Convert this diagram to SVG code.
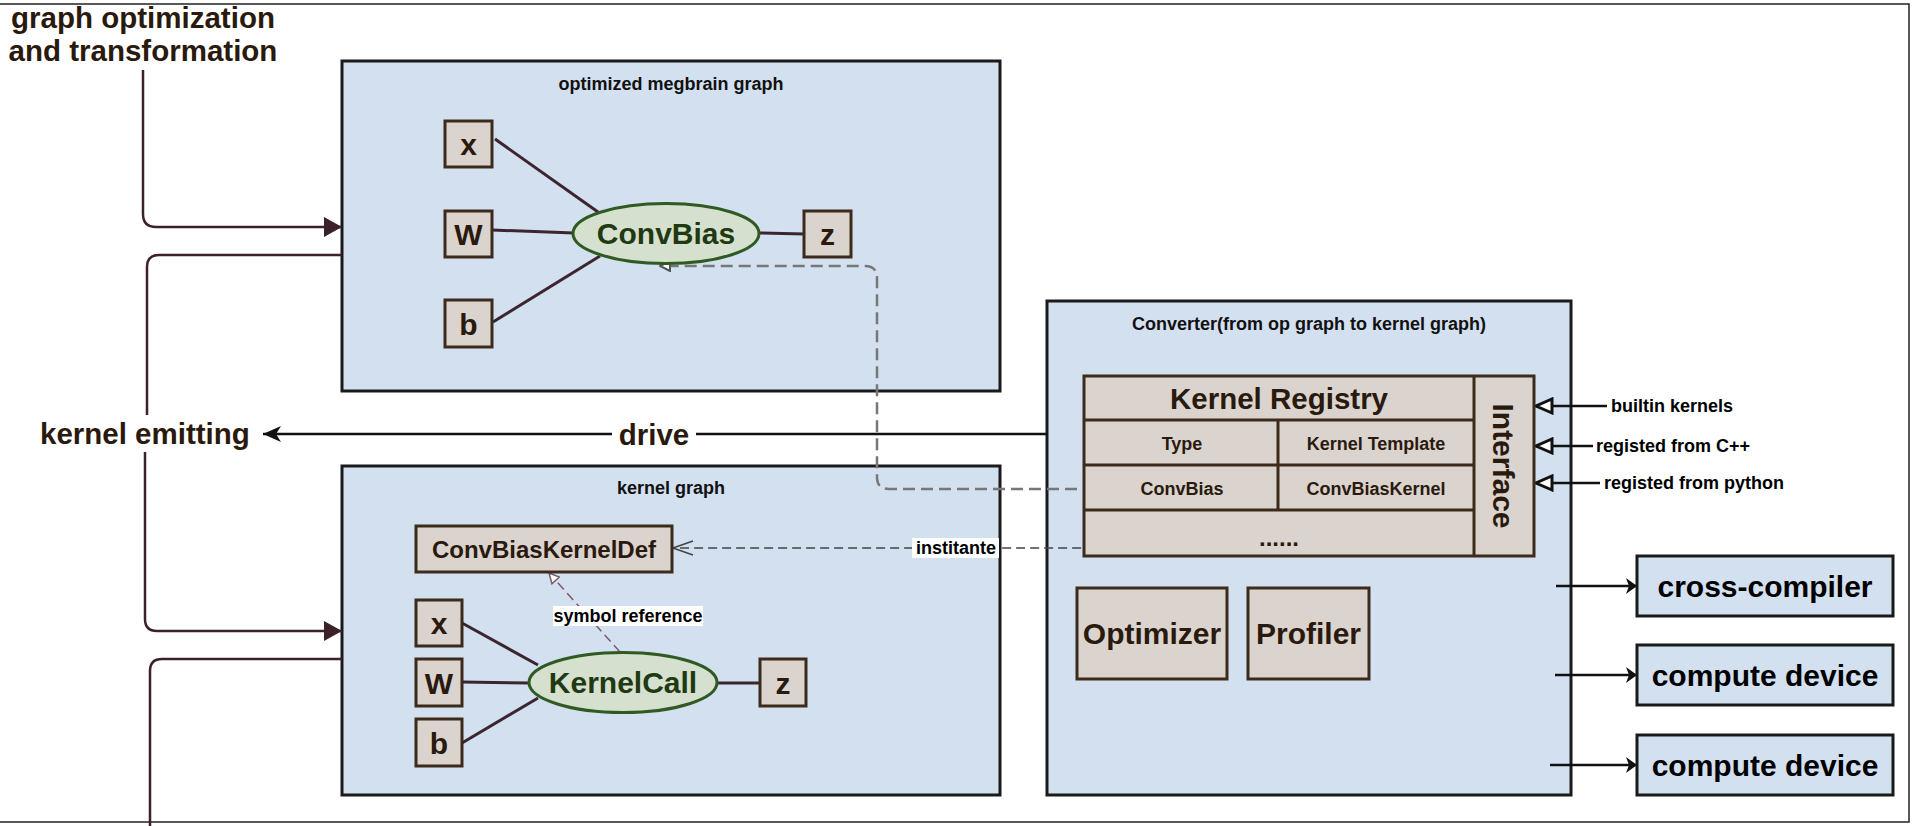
<svg xmlns="http://www.w3.org/2000/svg" width="1916" height="826" viewBox="0 0 1916 826">
<style>
text{font-family:"Liberation Sans",Arial,sans-serif;font-weight:bold}
.big{font-size:29.5px;fill:#2a1a0e}
.title{font-size:18px;fill:#111}
.panel{fill:#d3e0f0;stroke:#1a1a1a;stroke-width:3}
.vbox{fill:#dad3ce;stroke:#3c2a1a;stroke-width:3}
.vtxt{font-size:30px;fill:#2a1a0e;text-anchor:middle}
.op{fill:#d6e0cf;stroke:#2f5a22;stroke-width:3}
.optxt{font-size:30px;fill:#1f3a12;text-anchor:middle}
.edge{stroke:#3d2530;stroke-width:3;fill:none}
.flow{stroke:#3a2228;stroke-width:2.5;fill:none}
.cell{font-size:18px;fill:#2a1a0e;text-anchor:middle}
.lbl{font-size:18px;fill:#000;text-anchor:middle}
.small{font-size:18px;fill:#000}
.out{font-size:30px;fill:#000;text-anchor:middle}
</style>
<defs>
<marker id="aFill" viewBox="0 0 18 20" refX="18" refY="10" markerWidth="18" markerHeight="20" markerUnits="userSpaceOnUse" orient="auto"><path d="M0,0 L18,10 L0,20 z" fill="#3a2228"/></marker>
<marker id="aDrive" viewBox="0 0 18 16" refX="18" refY="8" markerWidth="18" markerHeight="16" markerUnits="userSpaceOnUse" orient="auto"><path d="M0,0 L18,8 L0,16 L5,8 z" fill="#111"/></marker>
<marker id="aOut" viewBox="0 0 11 16" refX="11" refY="8" markerWidth="11" markerHeight="16" markerUnits="userSpaceOnUse" orient="auto"><path d="M0,0 L11,8 L0,16 L3,8 z" fill="#111"/></marker>
<marker id="aOpen" viewBox="0 0 20 18" refX="18" refY="9" markerWidth="20" markerHeight="18" markerUnits="userSpaceOnUse" orient="auto"><path d="M2,2 L18,9 L2,16 z" fill="#fff" stroke="#111" stroke-width="3"/></marker>
<marker id="aSmallOpen" viewBox="0 0 12 12" refX="11" refY="6" markerWidth="12" markerHeight="12" markerUnits="userSpaceOnUse" orient="auto"><path d="M1,1 L11,6 L1,11 z" fill="#fff" stroke="#555" stroke-width="2"/></marker>
<marker id="aRefOpen" viewBox="0 0 12 12" refX="11" refY="6" markerWidth="12" markerHeight="12" markerUnits="userSpaceOnUse" orient="auto"><path d="M1,1 L11,6 L1,11 z" fill="#fff" stroke="#7a5a6a" stroke-width="1.5"/></marker>
<marker id="aChev" viewBox="0 0 22 16" refX="21" refY="8" markerWidth="22" markerHeight="16" markerUnits="userSpaceOnUse" orient="auto"><path d="M1,1 L21,8 L1,15" fill="none" stroke="#444" stroke-width="1.5"/></marker>
</defs>
<rect x="0" y="0" width="1916" height="826" fill="#fff"/>
<rect x="-3" y="4" width="1912" height="818" fill="none" stroke="#222" stroke-width="1.5"/>

<g id="label-graph-opt">
<text class="big" x="143" y="28" text-anchor="middle">graph optimization</text>
<text class="big" x="143" y="61" text-anchor="middle">and transformation</text>
</g>
<g id="label-kernel-emitting"><text class="big" x="40" y="444">kernel emitting</text></g>

<g id="optimized-graph">
<rect class="panel" x="342" y="61" width="658" height="330"/>
<text class="title" x="671" y="90" text-anchor="middle">optimized megbrain graph</text>
</g>
<g id="kernel-graph">
<rect class="panel" x="342" y="466" width="658" height="329"/>
<text class="title" x="671" y="494" text-anchor="middle">kernel graph</text>
</g>
<g id="converter">
<rect class="panel" x="1047" y="301" width="524" height="494"/>
<text class="title" x="1309" y="330" text-anchor="middle">Converter(from op graph to kernel graph)</text>
</g>

<g id="connectors">
<path class="flow" d="M143,70 V214 Q143,227 156,227 H342" marker-end="url(#aFill)"/>
<path class="flow" d="M342,255 H159 Q147,255 147,267 V415"/>
<path class="flow" d="M145,452 V619 Q145,631 157,631 H342" marker-end="url(#aFill)"/>
<path class="flow" d="M342,659 H162 Q150,659 150,671 V826"/>
<path d="M1047,434 H263" stroke="#111" stroke-width="2.5" fill="none" marker-end="url(#aDrive)"/>
<line class="edge" x1="495" y1="139" x2="598" y2="212"/>
<line class="edge" x1="492" y1="230" x2="574" y2="233"/>
<line class="edge" x1="493" y1="322" x2="600" y2="256"/>
<line class="edge" x1="759" y1="233" x2="804" y2="234"/>
<line class="edge" x1="462" y1="623" x2="538" y2="665"/>
<line class="edge" x1="462" y1="682" x2="529" y2="683"/>
<line class="edge" x1="462" y1="743" x2="538" y2="698"/>
<line class="edge" x1="717" y1="683" x2="760" y2="683"/>
<path d="M1095,489 H889 Q877,489 877,477 V278 Q877,266 865,266 H660" stroke="#777" stroke-width="2.5" stroke-dasharray="12 6" fill="none" marker-end="url(#aSmallOpen)"/>
<path d="M620,652 L549,573" stroke="#7a5a6a" stroke-width="1.5" stroke-dasharray="9 5" fill="none" marker-end="url(#aRefOpen)"/>
<path d="M1293,490 V538 Q1293,548 1283,548 H673" stroke="#444" stroke-width="1.5" stroke-dasharray="9 5" fill="none" marker-end="url(#aChev)"/>
<path d="M1607,406 H1536" stroke="#111" stroke-width="2.5" fill="none" marker-end="url(#aOpen)"/>
<path d="M1593,446 H1536" stroke="#111" stroke-width="2.5" fill="none" marker-end="url(#aOpen)"/>
<path d="M1600,483 H1536" stroke="#111" stroke-width="2.5" fill="none" marker-end="url(#aOpen)"/>
<path d="M1556,586 H1637" stroke="#111" stroke-width="2.5" fill="none" marker-end="url(#aOut)"/>
<path d="M1555,675 H1637" stroke="#111" stroke-width="2.5" fill="none" marker-end="url(#aOut)"/>
<path d="M1550,765 H1637" stroke="#111" stroke-width="2.5" fill="none" marker-end="url(#aOut)"/>
<rect x="612" y="416" width="84" height="34" fill="#fff"/>
<text class="big" x="654" y="445" text-anchor="middle">drive</text>
<rect x="553" y="606" width="150" height="20" fill="#fff"/>
<text class="lbl" x="628" y="622">symbol reference</text>
<rect x="912" y="538" width="87" height="20" fill="#fff"/>
<text class="lbl" x="956" y="554">institante</text>
<text class="small" x="1611" y="412">builtin kernels</text>
<text class="small" x="1596" y="452">registed from C++</text>
<text class="small" x="1604" y="489">registed from python</text>
</g>

<g id="og-x"><rect class="vbox" x="445" y="121" width="47" height="46"/><text class="vtxt" x="468.5" y="155">x</text></g>
<g id="og-W"><rect class="vbox" x="445" y="211" width="47" height="46"/><text class="vtxt" x="468.5" y="245">W</text></g>
<g id="og-b"><rect class="vbox" x="445" y="300" width="47" height="47"/><text class="vtxt" x="468.5" y="335">b</text></g>
<g id="og-convbias"><ellipse class="op" cx="666" cy="233.5" rx="93" ry="30"/><text class="optxt" x="666" y="244">ConvBias</text></g>
<g id="og-z"><rect class="vbox" x="804" y="211" width="47" height="46"/><text class="vtxt" x="827.5" y="245">z</text></g>

<g id="kg-def"><rect class="vbox" x="416" y="526" width="256" height="46"/><text class="vtxt" style="font-size:24px" x="544" y="558">ConvBiasKernelDef</text></g>
<g id="kg-x"><rect class="vbox" x="416" y="600" width="46" height="46"/><text class="vtxt" x="439" y="634">x</text></g>
<g id="kg-W"><rect class="vbox" x="416" y="659" width="46" height="47"/><text class="vtxt" x="439" y="694">W</text></g>
<g id="kg-b"><rect class="vbox" x="416" y="719" width="46" height="47"/><text class="vtxt" x="439" y="754">b</text></g>
<g id="kg-kernelcall"><ellipse class="op" cx="623" cy="682.5" rx="94" ry="30"/><text class="optxt" x="623" y="693">KernelCall</text></g>
<g id="kg-z"><rect class="vbox" x="760" y="659" width="46" height="47"/><text class="vtxt" x="783" y="694">z</text></g>

<g id="kernel-registry">
<rect class="vbox" x="1084" y="376" width="450" height="180"/>
<line x1="1474" y1="376" x2="1474" y2="556" stroke="#3c2a1a" stroke-width="3"/>
<line x1="1084" y1="420" x2="1474" y2="420" stroke="#3c2a1a" stroke-width="3"/>
<line x1="1084" y1="465" x2="1474" y2="465" stroke="#3c2a1a" stroke-width="3"/>
<line x1="1084" y1="510" x2="1474" y2="510" stroke="#3c2a1a" stroke-width="3"/>
<line x1="1278" y1="420" x2="1278" y2="510" stroke="#3c2a1a" stroke-width="3"/>
<text class="cell" style="font-size:29.5px" x="1279" y="409">Kernel Registry</text>
<text class="cell" x="1182" y="450">Type</text>
<text class="cell" x="1376" y="450">Kernel Template</text>
<text class="cell" x="1182" y="495">ConvBias</text>
<text class="cell" x="1376" y="495">ConvBiasKernel</text>
<text class="cell" style="font-size:24px" x="1279" y="546">......</text>
<text class="cell" style="font-size:30px" transform="translate(1493,466) rotate(90)" x="0" y="0">Interface</text>
</g>

<g id="optimizer"><rect class="vbox" x="1077" y="588" width="150" height="91"/><text class="vtxt" x="1152" y="644">Optimizer</text></g>
<g id="profiler"><rect class="vbox" x="1248" y="588" width="121" height="91"/><text class="vtxt" x="1308.5" y="644">Profiler</text></g>

<g id="cross-compiler"><rect class="panel" x="1637" y="556" width="256" height="60"/><text class="out" x="1765" y="597">cross-compiler</text></g>
<g id="compute-device-1"><rect class="panel" x="1637" y="645" width="256" height="60"/><text class="out" x="1765" y="686">compute device</text></g>
<g id="compute-device-2"><rect class="panel" x="1637" y="735" width="256" height="60"/><text class="out" x="1765" y="776">compute device</text></g>
</svg>
